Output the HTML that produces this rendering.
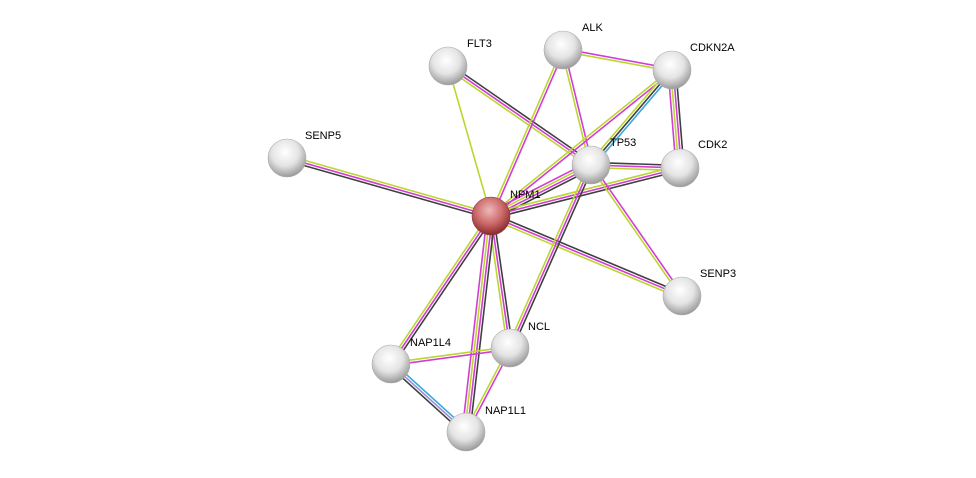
<!DOCTYPE html>
<html><head><meta charset="utf-8"><style>
html,body{margin:0;padding:0;background:#fff;width:976px;height:478px;overflow:hidden}
text{font-family:"Liberation Sans",sans-serif;font-size:11px;fill:#000}
</style></head><body>
<svg id="s" width="976" height="478" xmlns="http://www.w3.org/2000/svg">
<defs>
<radialGradient id="g" cx="45%" cy="35%" r="65%">
<stop offset="0" stop-color="#ffffff"/><stop offset="0.55" stop-color="#e4e4e4"/><stop offset="1" stop-color="#9a9a9a"/></radialGradient>
<radialGradient id="r" cx="45%" cy="35%" r="65%">
<stop offset="0" stop-color="#f0b8b8"/><stop offset="0.55" stop-color="#cc6a6a"/><stop offset="1" stop-color="#8a2a2a"/></radialGradient>
</defs>
<g id="e"></g><g id="n"></g>
</svg>
<script>
var N={FLT3:[448,66],ALK:[563,50],CDKN2A:[672,70],SENP5:[287,158],TP53:[591,165],CDK2:[680,168],NPM1:[491,216],SENP3:[682,296],NCL:[510,348],NAP1L4:[391,364],NAP1L1:[466,432]};
var C={y:"#bcd630",m:"#d23ed2",k:"#404040",b:"#3aa8e0",p:"#9b8fd8"};
var E=[["SENP5","NPM1","ymk"],["FLT3","NPM1","y"],["FLT3","TP53","kmy"],["ALK","NPM1","my"],["ALK","TP53","my"],["ALK","CDKN2A","my"],["CDKN2A","NPM1","my"],["CDKN2A","TP53","bky"],["CDKN2A","CDK2","kmym"],["TP53","NPM1","kmym"],["CDK2","NPM1","kmy"],["TP53","CDK2","kmy"],["TP53","SENP3","my"],["NPM1","SENP3","kmy"],["TP53","NCL","kmy"],["NPM1","NCL","kmy"],["NPM1","NAP1L4","kmy"],["NPM1","NAP1L1","kmym"],["NCL","NAP1L4","my"],["NCL","NAP1L1","my"],["NAP1L4","NAP1L1","bpk"]];
var ns="http://www.w3.org/2000/svg",ge=document.getElementById("e"),gn=document.getElementById("n");
E.forEach(function(d){var a=N[d[0]],b=N[d[1]],dx=b[0]-a[0],dy=b[1]-a[1],L=Math.hypot(dx,dy),px=-dy/L,py=dx/L,k=d[2].length;
for(var i=0;i<k;i++){var o=(i-(k-1)/2)*2.6;var l=document.createElementNS(ns,"line");
l.setAttribute("x1",a[0]+px*o);l.setAttribute("y1",a[1]+py*o);l.setAttribute("x2",b[0]+px*o);l.setAttribute("y2",b[1]+py*o);
l.setAttribute("stroke",C[d[2][i]]);l.setAttribute("stroke-width","1.6");ge.appendChild(l);}});
var Lb={FLT3:[467,47],ALK:[582,31],CDKN2A:[690,51],SENP5:[305,139],TP53:[610,146],CDK2:[698,148],NPM1:[510,198],SENP3:[700,277],NCL:[528,330],NAP1L4:[410,346],NAP1L1:[485,414]};
for(var k in N){var c=document.createElementNS(ns,"circle");c.setAttribute("cx",N[k][0]);c.setAttribute("cy",N[k][1]);c.setAttribute("r",19);
c.setAttribute("fill",k=="NPM1"?"url(#r)":"url(#g)");c.setAttribute("stroke",k=="NPM1"?"#8a3a3a":"#aaa");c.setAttribute("stroke-width","0.6");gn.appendChild(c);
var t=document.createElementNS(ns,"text");t.setAttribute("x",Lb[k][0]);t.setAttribute("y",Lb[k][1]);t.textContent=k;gn.appendChild(t);}
</script>
</body></html>
